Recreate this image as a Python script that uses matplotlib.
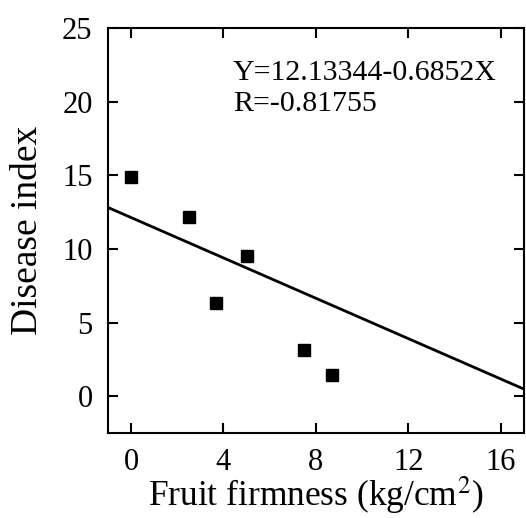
import numpy as np
import matplotlib
matplotlib.use("Agg")
import matplotlib.pyplot as plt

# data
firmness = [0.0, 2.5, 3.7, 5.0, 7.5, 8.7]
disease = [14.9, 12.2, 6.35, 9.55, 3.15, 1.45]
intercept = 12.13344
slope = -0.6852
xticks = [0, 4, 8, 12, 16]
yticks = [0, 5, 10, 15, 20, 25]

plt.rcParams['font.family'] = ['Liberation Serif', 'DejaVu Serif']
plt.rcParams['mathtext.fontset'] = 'stix'

fig = plt.figure(figsize=(5.26, 5.18), dpi=100)
ax = fig.add_axes([0.205, 0.164, 0.791, 0.782])

ax.plot(firmness, disease, 's', color='black', markersize=9, zorder=3)
xfit = np.array([-1, 17])
ax.plot(xfit, intercept + slope * xfit, color='black', lw=2.0)

ax.set_xlim(-1, 17)
ax.set_ylim(-2.5, 25)
ax.set_xticks(xticks)
ax.set_yticks(yticks)
ax.tick_params(direction='in', length=7, width=1.5, top=True, right=True,
               labelsize=22, pad=11)
for s in ax.spines.values():
    s.set_linewidth(1.5)

ax.set_xlabel('Fruit firmness (kg/cm$^2$)', fontsize=25.5, labelpad=-2)
ax.set_ylabel('Disease index', fontsize=27, labelpad=12)

ax.text(0.30, 0.92, 'Y=12.13344-0.6852X\nR=-0.81755', transform=ax.transAxes,
        fontsize=21.5, va='top', ha='left', linespacing=1.25)

fig.savefig('out.png', dpi=100)
